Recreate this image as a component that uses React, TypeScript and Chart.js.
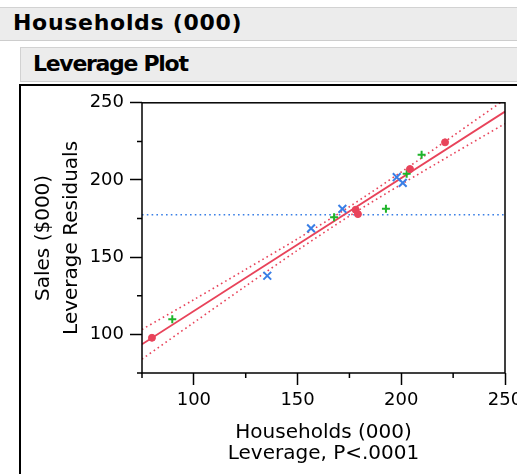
import React, { useEffect, useRef } from 'react';
import { Chart, registerables } from 'chart.js';

Chart.register(...registerables);

// ---- data ----
const redX = [221.1, 204.2, 178.0, 179.1, 79.8];
const redY = [224.4, 207.1, 180.7, 177.9, 97.8];
const greenX = [209.8, 202.6, 192.6, 167.6, 89.6];
const greenY = [216.3, 204.1, 181.3, 175.9, 109.8];
const blueX = [197.8, 200.7, 171.6, 156.5, 135.4];
const blueY = [201.8, 198.1, 181.3, 168.7, 138.0];
const fitX = [75, 250];
const fitY = [93.6, 244.3];
const bandX = [75, 100, 125, 150, 175, 200, 225, 250];
const upperY = [103.2, 122.5, 142.1, 161.9, 182.7, 205.2, 228.6, 252.2];
const lowerY = [84.0, 107.7, 131.3, 154.5, 176.7, 197.2, 217.0, 236.5];
const meanX = [75, 250];
const meanY = [177.5, 177.5];
const minorTicks = [75, 125, 175, 225];
const xTitle = ['Households (000)', 'Leverage, P<.0001'];
const yTitle = ['Sales ($000)', 'Leverage Residuals'];
const header1 = 'Households (000)';
const header2 = 'Leverage Plot';

const zip = (xs: number[], ys: number[]) => xs.map((x, i) => ({ x, y: ys[i] }));

const FONT = "'DejaVu Sans', sans-serif";
const RED = '#e8435a';
const GREEN = '#1fb42a';
const BLUE = '#3a7fe6';

const framePlugin = {
  id: 'frame',
  afterDraw(chart: any) {
    const { ctx, chartArea } = chart;
    const { left, right, top, bottom } = chartArea;
    const xs = chart.scales.x;
    const ys = chart.scales.y;
    ctx.save();
    ctx.strokeStyle = '#000';
    ctx.lineWidth = 1.5;
    ctx.strokeRect(left, top, right - left, bottom - top);
    ctx.beginPath();
    minorTicks.forEach((v) => {
      const px = xs.getPixelForValue(v);
      ctx.moveTo(px, bottom);
      ctx.lineTo(px, bottom + 5);
      const py = ys.getPixelForValue(v);
      ctx.moveTo(left, py);
      ctx.lineTo(left - 5, py);
    });
    ctx.stroke();
    ctx.restore();
  },
};

export default function App() {
  const ref = useRef<HTMLCanvasElement>(null);

  useEffect(() => {
    if (!ref.current) return;
    const tickColor = (c: any) =>
      c.tick && c.tick.value % 50 === 0 ? '#000' : 'rgba(0,0,0,0)';
    const chart = new Chart(ref.current, {
      type: 'scatter',
      data: {
        datasets: [
          {
            data: zip(redX, redY),
            pointStyle: 'circle',
            pointRadius: 3.5,
            backgroundColor: RED,
            borderColor: RED,
            borderWidth: 1,
          },
          {
            data: zip(greenX, greenY),
            pointStyle: 'cross',
            pointRadius: 4,
            borderColor: GREEN,
            backgroundColor: GREEN,
            borderWidth: 2,
          },
          {
            data: zip(blueX, blueY),
            pointStyle: 'crossRot',
            pointRadius: 5.5,
            borderColor: BLUE,
            backgroundColor: BLUE,
            borderWidth: 2,
          },
          {
            data: zip(fitX, fitY),
            showLine: true,
            pointRadius: 0,
            borderColor: RED,
            borderWidth: 1.8,
          },
          {
            data: zip(bandX, upperY),
            showLine: true,
            pointRadius: 0,
            borderColor: RED,
            borderWidth: 1.6,
            borderDash: [1.6, 3.2],
            tension: 0.3,
          },
          {
            data: zip(bandX, lowerY),
            showLine: true,
            pointRadius: 0,
            borderColor: RED,
            borderWidth: 1.6,
            borderDash: [1.6, 3.2],
            tension: 0.3,
          },
          {
            data: zip(meanX, meanY),
            showLine: true,
            pointRadius: 0,
            borderColor: BLUE,
            borderWidth: 1.6,
            borderDash: [1.6, 3.2],
          },
        ],
      } as any,
      options: {
        animation: false,
        responsive: false,
        events: [],
        layout: { padding: { top: 14, right: 56, left: 0, bottom: 0 } },
        plugins: { legend: { display: false }, tooltip: { enabled: false } },
        scales: {
          x: {
            type: 'linear',
            min: 75,
            max: 250,
            afterFit: (s: any) => {
              s.height = 101;
            },
            ticks: {
              stepSize: 25,
              padding: 5,
              color: '#000',
              maxRotation: 0,
              autoSkip: false,
              font: { family: FONT, size: 18 },
              callback: (v: any) => (Number(v) % 50 === 0 ? String(v) : ''),
            },
            grid: {
              drawOnChartArea: false,
              drawTicks: true,
              tickLength: 12,
              tickWidth: 1.5,
              tickColor,
            },
            border: { display: false },
            title: {
              display: true,
              text: xTitle,
              color: '#000',
              font: { family: FONT, size: 20, lineHeight: '21px' },
              padding: { top: 0, bottom: 10 },
            },
          },
          y: {
            type: 'linear',
            min: 75,
            max: 250,
            afterFit: (s: any) => {
              s.width = 121;
            },
            ticks: {
              stepSize: 25,
              padding: 6,
              color: '#000',
              autoSkip: false,
              font: { family: FONT, size: 18 },
              callback: (v: any) => (Number(v) % 50 === 0 ? String(v) : ''),
            },
            grid: {
              drawOnChartArea: false,
              drawTicks: true,
              tickLength: 12,
              tickWidth: 1.5,
              tickColor,
            },
            border: { display: false },
            title: {
              display: true,
              text: yTitle,
              color: '#000',
              font: { family: FONT, size: 20, lineHeight: '28px' },
              padding: { top: 9, bottom: 0 },
            },
          },
        },
      } as any,
      plugins: [framePlugin],
    });
    return () => chart.destroy();
  }, []);

  const bar: React.CSSProperties = {
    position: 'absolute',
    background: '#ececec',
    borderTop: '1px solid #d2d2d2',
    borderBottom: '1px solid #cdcdcd',
    boxSizing: 'border-box',
  };
  const label: React.CSSProperties = {
    position: 'absolute',
    fontWeight: 'bold',
    fontSize: 22,
    lineHeight: '26px',
    color: '#000',
    whiteSpace: 'nowrap',
  };

  return (
    <div
      style={{
        position: 'fixed',
        left: 0,
        top: 0,
        width: 517,
        height: 474,
        overflow: 'hidden',
        background: '#fff',
        fontFamily: FONT,
      }}
    >
      <div style={{ ...bar, left: 0, top: 7, width: 620, height: 34 }} />
      <span style={{ ...label, left: 13, top: 10, letterSpacing: '0.7px' }}>{header1}</span>
      <div
        style={{
          ...bar,
          left: 20,
          top: 47,
          width: 620,
          height: 35,
          borderLeft: '1px solid #d2d2d2',
        }}
      />
      <span style={{ ...label, left: 33, top: 51, letterSpacing: '-1.3px' }}>{header2}</span>
      <div
        style={{
          position: 'absolute',
          left: 19,
          top: 84,
          width: 620,
          height: 500,
          border: '2px solid #000',
          background: '#fff',
        }}
      >
        <canvas
          ref={ref}
          width={540}
          height={388}
          style={{ display: 'block', width: 540, height: 388 }}
        />
      </div>
    </div>
  );
}
